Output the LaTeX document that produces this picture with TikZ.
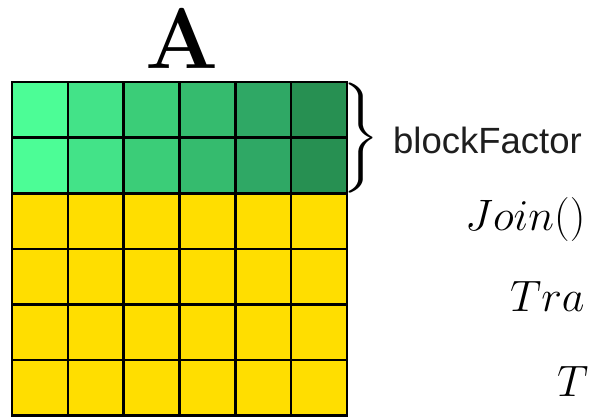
\RequirePackage{fix-cm}
\documentclass[tikz,border=0pt]{standalone}
\usepackage{fontspec}
\newfontfamily\labelfont{Liberation Sans}
\definecolor{gA}{HTML}{4CFD96}
\definecolor{gB}{HTML}{43E388}
\definecolor{gC}{HTML}{3BCD78}
\definecolor{gD}{HTML}{35BB6E}
\definecolor{gE}{HTML}{2FA865}
\definecolor{gF}{HTML}{279052}
\definecolor{cellyellow}{HTML}{FFDE00}
\definecolor{labelgray}{HTML}{1E1E1E}
\begin{document}
\begin{tikzpicture}[x=1pt,y=-1pt,
  cell/.style={draw=black, line width=2.6pt, minimum width=55.83pt, minimum height=55.6pt,
               inner sep=0pt, outer sep=0pt, anchor=north west},
  mathlabel/.style={anchor=base west, inner sep=0pt, font=\fontsize{44}{50}\selectfont},
  sanslabel/.style={anchor=base west, inner sep=0pt, text=labelgray, font=\labelfont\fontsize{36.5}{40}\selectfont},
  title/.style={anchor=base, inner sep=0pt, font=\fontsize{86}{88}\selectfont\bfseries}]
\useasboundingbox (0,0) rectangle (592,416);
\clip (0,0) rectangle (592,416);
\foreach \c [count=\i from 0] in {gA,gB,gC,gD,gE,gF} {
  \foreach \r in {0,1}
    \node[cell, fill=\c] (cell-\r-\i) at ({12+\i*55.83},{82+\r*55.6}) {};
  \foreach \r in {2,...,5}
    \node[cell, fill=cellyellow] (cell-\r-\i) at ({12+\i*55.83},{82+\r*55.6}) {};
}
\node[title] (title) at (182,68) {A};
\node[xscale=4.6, yscale=3.67, inner sep=0pt, outer sep=0pt, anchor=west] (brace) at (342.5,138)
  {$\Biggr\}$};
\node[sanslabel] (bf) at (393,153) {blockFactor};
\node[mathlabel] (join) at (465,230) {$Join()$};
\node[mathlabel] (tra) at (510,311) {$Tra$};
\node[mathlabel] (t) at (557,396) {$T$};
\end{tikzpicture}
\end{document}
